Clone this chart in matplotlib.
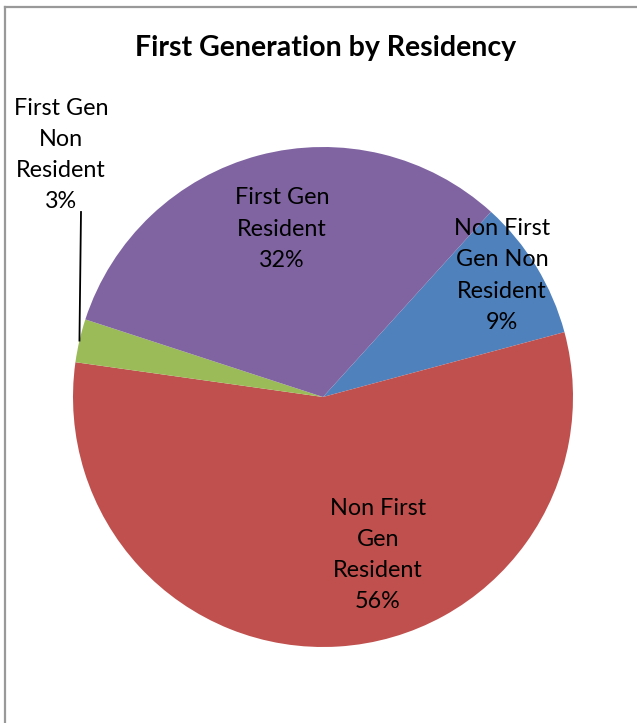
import matplotlib
matplotlib.use("Agg")
import matplotlib.pyplot as plt
from matplotlib.lines import Line2D
import numpy as np

categories = ["Non First\nGen Non\nResident", "Non First\nGen\nResident",
              "First Gen\nNon\nResident", "First Gen\nResident"]
values = [9.1, 56.4, 2.8, 31.7]
colors = ["#4F81BD", "#C0504D", "#9BBB59", "#8064A2"]
pct_labels = ["9%", "56%", "3%", "32%"]
title = "First Generation by Residency"

plt.rcParams['font.family'] = ['Lato', 'DejaVu Sans']

W, H = 637, 723
fig = plt.figure(figsize=(W / 100, H / 100), dpi=100)

cx, cy, r = 323, 397, 250
ax = fig.add_axes([(cx - r) / W, (H - cy - r) / H, 2 * r / W, 2 * r / H])
wedges, _ = ax.pie(values, colors=colors, startangle=47.8, counterclock=False,
                   radius=1, wedgeprops=dict(linewidth=0))
ax.set_xlim(-1, 1)
ax.set_ylim(-1, 1)
ax.set_aspect('equal')
ax.axis('off')

# label positions (data coords relative to pie centre)
label_pos = [(0.716, 0.486), (0.22, -0.632), (-1.048, 0.968), (-0.164, 0.672)]
for (lx, ly), cat, pct in zip(label_pos, categories, pct_labels):
    ax.text(lx, ly, f"{cat}\n{pct}", ha='center', va='center', fontsize=16.8,
            linespacing=1.6, color='black', clip_on=False)

# leader line for the small slice
w = wedges[2]
mid = np.deg2rad((w.theta1 + w.theta2) / 2)
ex, ey = np.cos(mid), np.sin(mid)
ax.plot([-0.968, ex * 1.0], [0.74, ey * 1.0], color='black', lw=1.3, clip_on=False)

fig.text(325.5 / W, 1 - 48 / H, title, ha='center', va='center',
         fontsize=20.5, fontweight='bold')

# chart frame (top and left edges visible)
fig.add_artist(Line2D([4.5 / W, 4.5 / W], [0, 1 - 6.5 / H], transform=fig.transFigure,
                      color='#999999', lw=1.6))
fig.add_artist(Line2D([4.5 / W, 1], [1 - 6.5 / H, 1 - 6.5 / H], transform=fig.transFigure,
                      color='#999999', lw=1.6))

fig.savefig("out.png", dpi=100, facecolor='white')
